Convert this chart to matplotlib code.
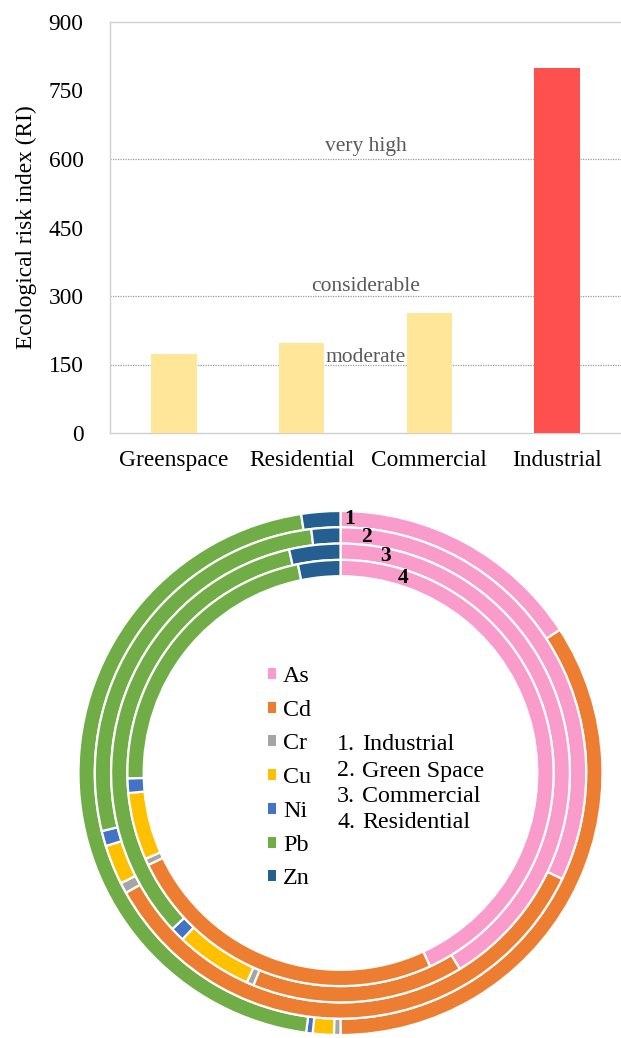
import numpy as np
import matplotlib
matplotlib.use('Agg')
import matplotlib.pyplot as plt
from matplotlib.patches import Patch

# ---------------- data ----------------
categories = ['Greenspace', 'Residential', 'Commercial', 'Industrial']
ri_values = [172, 196, 262, 800]
bar_colors = ['#FFE699', '#FFE699', '#FFE699', '#FF5050']
yticks = [0, 150, 300, 450, 600, 750, 900]
threshold_values = [150, 300, 600]
threshold_labels = ['moderate', 'considerable', 'very high']
threshold_label_y = [166, 320, 628]

metals = ['As', 'Cd', 'Cr', 'Cu', 'Ni', 'Pb', 'Zn']
metal_colors = ['#F99BCB', '#ED7D31', '#A5A5A5', '#FFC000', '#4472C4', '#70AD47', '#255E91']
ring_names = ['Industrial', 'Green Space', 'Commercial', 'Residential']
industrial = [15.8, 34.2, 0.4, 1.3, 0.4, 45.5, 2.4]
green_space = [32.1, 34.8, 0.7, 2.6, 1.0, 26.9, 1.9]
commercial = [41.3, 14.9, 0.5, 5.4, 1.0, 33.3, 3.6]
residential = [43.1, 24.8, 0.5, 5.1, 1.1, 22.2, 3.2]
rings = [industrial, green_space, commercial, residential]
ring_label_angles = [2.1, 6.2, 11.7, 17.9]

# ---------------- figure ----------------
W, H, DPI = 621, 1038, 100
plt.rcParams['font.family'] = ['Liberation Serif', 'DejaVu Serif']
fig = plt.figure(figsize=(W / DPI, H / DPI), dpi=DPI)

# bar chart
ax = fig.add_axes([110 / W, 1 - 433 / H, (621 - 110) / W, (433 - 22) / H])
x = np.arange(len(categories))
ax.bar(x, ri_values, width=0.355, color=bar_colors, zorder=3)
ax.set_xlim(-0.5, 3.5)
ax.set_ylim(0, 900)
ax.set_yticks(yticks)
ax.set_xticks(x)
ax.set_xticklabels(categories)
ax.tick_params(axis='both', length=0, labelsize=16.8, colors='black')
ax.tick_params(axis='y', pad=19)
ax.tick_params(axis='x', pad=12)
for s in ['left', 'top', 'bottom']:
    ax.spines[s].set_color('#D0D0D0')
    ax.spines[s].set_linewidth(1.0)
ax.spines['right'].set_visible(False)
ax.set_ylabel('Ecological risk index (RI)', fontsize=16.8, labelpad=8)
for v, lab, ly in zip(threshold_values, threshold_labels, threshold_label_y):
    ax.axhline(v, color='#9A9A9A', lw=0.9, ls=(0, (1, 1)), zorder=1)
    ax.text(1.5, ly, lab, ha='center', va='center', fontsize=15.5, color='#595959', zorder=4)

# donut chart
cx, cy, half = 340.5, 773, 270
ax2 = fig.add_axes([(cx - half) / W, 1 - (cy + half) / H, 2 * half / W, 2 * half / H])
R0, ring_w = 262, 16.3
for i, vals in enumerate(rings):
    ax2.pie(vals, radius=R0 - i * ring_w, startangle=90, counterclock=False,
            colors=metal_colors,
            wedgeprops=dict(width=ring_w, edgecolor='white', linewidth=1.6))
    r_mid = R0 - i * ring_w - ring_w / 2
    a = np.deg2rad(ring_label_angles[i])
    ax2.text(r_mid * np.sin(a), r_mid * np.cos(a), str(i + 1), ha='center', va='center',
             fontsize=15.5, fontweight='bold', color='black')
ax2.set_xlim(-half, half)
ax2.set_ylim(-half, half)
ax2.axis('off')

handles = [Patch(facecolor=c, edgecolor='none', label=m) for m, c in zip(metals, metal_colors)]
ax2.legend(handles=handles, loc='upper left', bbox_to_anchor=(268 / W, 1 - 666 / H),
           bbox_transform=fig.transFigure, frameon=False, fontsize=17.3,
           handlelength=0.33, handleheight=0.33, handletextpad=0.3,
           labelspacing=0.53, borderpad=0, borderaxespad=0)

for i, name in enumerate(ring_names):
    yy = 1 - (745 + 26 * i) / H
    fig.text(337 / W, yy, f'{i + 1}.', ha='left', va='center', fontsize=17.3)
    fig.text(362 / W, yy, name, ha='left', va='center', fontsize=17.3)

fig.savefig('out.png', dpi=DPI)
